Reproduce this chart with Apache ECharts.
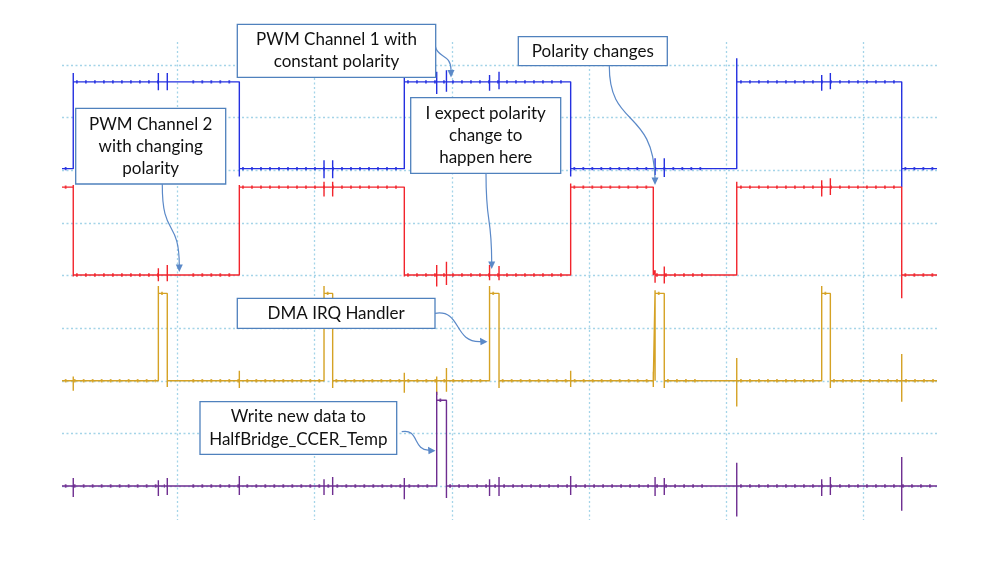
<!DOCTYPE html>
<html><head><meta charset="utf-8">
<script src="https://cdn.jsdelivr.net/npm/echarts@6/dist/echarts.min.js"></script>
<style>html,body{margin:0;padding:0;background:#fff}#c{width:999px;height:562px}</style>
</head><body><div id="c"></div>
<script>
// time axis in µs (grid division = 10 µs), vertical axis in divisions
const timeRange = [1.6, 65.35];
const divisionRange = [10, 60];
const levelRange = [0, 8];
const tickWindows = [[1.6, 9.3], [10.9, 48.5], [50.8, 65.35]];

// PWM Channel 1 (blue)
const ch1Levels = [6.03, 7.68];
const ch1StartHigh = false;
const ch1Edges = [2.42, 14.52, 26.54, 38.66, 50.76, 62.78];
const ch1Spikes = [[2.42, 7.85, 6.03], [8.62, 7.85, 7.52], [9.27, 7.85, 7.52], [14.52, 7.68, 5.88],
  [20.69, 6.19, 5.85], [21.32, 6.19, 5.85], [26.54, 7.78, 6.03], [28.90, 7.87, 7.45], [29.61, 7.90, 7.49],
  [32.75, 7.81, 7.51], [33.44, 7.87, 7.54], [38.66, 7.68, 5.88], [44.81, 6.23, 5.91], [45.48, 6.23, 5.87],
  [50.76, 8.13, 6.03], [56.95, 7.81, 7.51], [57.58, 7.85, 7.54], [62.78, 7.68, 5.68]];

// PWM Channel 2 (red)
const ch2Levels = [4.01, 5.68];
const ch2StartHigh = true;
const ch2Edges = [2.42, 14.52, 26.54, 38.66, 44.68, 50.76, 62.78];
const ch2Spikes = [[2.42, 5.72, 3.98], [8.62, 4.14, 3.89], [9.27, 4.20, 3.89], [14.52, 5.72, 4.01],
  [20.69, 5.78, 5.50], [21.32, 5.78, 5.50], [26.54, 5.68, 3.98], [28.90, 4.20, 3.79], [29.61, 4.26, 3.82],
  [32.75, 4.20, 3.91], [33.44, 4.18, 3.91], [38.66, 5.75, 4.01], [44.81, 4.10, 3.86], [45.48, 4.17, 3.85],
  [50.76, 5.78, 4.01], [56.95, 5.81, 5.50], [57.58, 5.85, 5.53], [62.78, 5.68, 3.57]];

// DMA IRQ Handler (gold)
const dmaLevels = [2.0, 3.66];
const dmaStartHigh = false;
const dmaEdges = [8.62, 9.27, 20.69, 21.32, 32.75, 33.44, 44.81, 45.48, 56.95, 57.58];
const dmaSpikes = [[2.42, 2.08, 1.81], [8.62, 3.80, 2.0], [9.27, 3.66, 1.88], [14.52, 2.19, 1.86],
  [20.69, 3.80, 2.0], [21.32, 3.66, 1.86], [26.54, 2.15, 1.77], [28.90, 2.08, 1.73], [29.61, 2.24, 1.79],
  [32.75, 3.80, 2.0], [33.44, 3.66, 1.86], [38.66, 2.19, 1.88], [44.68, 2.17, 1.88], [44.81, 3.72, 2.0],
  [45.48, 3.66, 1.86], [50.76, 2.43, 1.51], [56.95, 3.80, 2.0], [57.58, 3.66, 1.86], [62.78, 2.51, 1.60]];

// Write to HalfBridge_CCER_Temp (purple)
const wrLevels = [0.0, 1.63];
const wrStartHigh = false;
const wrEdges = [28.90, 29.61];
const wrSpikes = [[2.42, 0.15, -0.21], [8.62, 0.11, -0.19], [9.27, 0.15, -0.17], [14.52, 0.19, -0.17],
  [20.69, 0.13, -0.17], [21.32, 0.17, -0.17], [26.54, 0.15, -0.25], [28.90, 1.79, 0.0], [29.61, 1.63, -0.23],
  [32.75, 0.13, -0.19], [33.44, 0.17, -0.19], [38.66, 0.19, -0.17], [44.81, 0.17, -0.19], [45.48, 0.15, -0.17],
  [50.76, 0.44, -0.58], [56.95, 0.13, -0.19], [57.58, 0.17, -0.17], [62.78, 0.55, -0.47]];

function buildTrace(levels, startHigh, edges, spikes) {
  const xs = Array.from(new Set([...edges, ...spikes.map(s => s[0])])).sort((a, b) => a - b);
  let cur = startHigh ? 1 : 0;
  const pts = [[timeRange[0], levels[cur]]];
  xs.forEach(x => {
    pts.push([x, levels[cur]]);
    spikes.filter(s => s[0] === x).forEach(s => { pts.push([x, s[1]], [x, s[2]], [x, levels[cur]]); });
    if (edges.includes(x)) { cur ^= 1; pts.push([x, levels[cur]]); }
  });
  pts.push([timeRange[1], levels[cur]]);
  return pts;
}
function buildTicks(levels, startHigh, edges) {
  const bounds = [timeRange[0], ...edges, timeRange[1]];
  let cur = startHigh ? 1 : 0;
  const out = [];
  for (let i = 0; i < bounds.length - 1; i++) {
    const a = bounds[i], b = bounds[i + 1];
    tickWindows.forEach(([w0, w1]) => {
      const s = Math.max(a, w0), e = Math.min(b, w1);
      if (e - s > 0.4) out.push([s + 0.2, levels[cur]], [e - 0.2, levels[cur]], null);
    });
    cur ^= 1;
  }
  return out;
}

const traces = [
  { name: 'PWM Channel 1', color: '#2430e0', levels: ch1Levels, hi: ch1StartHigh, edges: ch1Edges, spikes: ch1Spikes },
  { name: 'PWM Channel 2', color: '#f2242c', levels: ch2Levels, hi: ch2StartHigh, edges: ch2Edges, spikes: ch2Spikes },
  { name: 'DMA IRQ Handler', color: '#d5a224', levels: dmaLevels, hi: dmaStartHigh, edges: dmaEdges, spikes: dmaSpikes },
  { name: 'Write new data', color: '#6e2d90', levels: wrLevels, hi: wrStartHigh, edges: wrEdges, spikes: wrSpikes }
];

const series = [];
traces.forEach(t => {
  series.push({
    type: 'line', name: t.name, xAxisIndex: 0, yAxisIndex: 0, data: buildTrace(t.levels, t.hi, t.edges, t.spikes),
    showSymbol: false, clip: false, animation: false, silent: true,
    lineStyle: { color: t.color, width: 1.4 }, z: 3
  });
  series.push({
    type: 'line', name: t.name + ' samples', xAxisIndex: 0, yAxisIndex: 0, data: buildTicks(t.levels, t.hi, t.edges),
    showSymbol: false, clip: false, animation: false, silent: true, connectNulls: false,
    lineStyle: { color: t.color, width: 3.4, type: [1.8, 7.2], opacity: 0.85 }, z: 3
  });
});

const gridColor = '#a4d4e8';
const boxStroke = '#4f81bd';
const arrowColor = '#5b89c8';
const font = '17px Lato, "Liberation Sans", sans-serif';

function box(x, y, w, h, lines, lineGap) {
  const gap = lineGap || 0;
  const els = [{ type: 'rect', shape: { x: x, y: y, width: w, height: h }, style: { fill: '#fff', stroke: boxStroke, lineWidth: 1.3 }, z: 100 }];
  const cx = x + w / 2;
  const cy = y + h / 2 - (lines.length - 1) * gap / 2;
  lines.forEach((t, i) => {
    els.push({ type: 'text', x: cx, y: cy + i * gap, style: { text: t, font: font, fill: '#111', align: 'center', verticalAlign: 'middle' }, z: 101 });
  });
  return els;
}
function arrow(p0, c1, c2, p1, tip, dir) {
  const els = [{ type: 'bezierCurve', shape: { x1: p0[0], y1: p0[1], cpx1: c1[0], cpy1: c1[1], cpx2: c2[0], cpy2: c2[1], x2: p1[0], y2: p1[1] },
    style: { stroke: arrowColor, lineWidth: 1.2, fill: null }, z: 102 }];
  let pts;
  if (dir === 'down') pts = [[tip[0] - 3.5, tip[1] - 7.5], [tip[0] + 3.5, tip[1] - 7.5], [tip[0], tip[1]]];
  else pts = [[tip[0] - 7.5, tip[1] - 4], [tip[0] - 7, tip[1] + 3.5], [tip[0], tip[1]]];
  els.push({ type: 'polygon', shape: { points: pts }, style: { fill: arrowColor }, z: 102 });
  return els;
}

const graphics = [].concat(
  box(237.3, 24.3, 198.4, 53, ['PWM Channel 1 with', 'constant polarity'], 22),
  arrow([435.5, 47], [438, 58], [451, 54], [451, 70], [451, 77.5], 'down'),
  box(75.7, 108.3, 150, 75.7, ['PWM Channel 2', 'with changing', 'polarity'], 22),
  arrow([162.3, 184], [162, 238], [179, 218], [179.3, 265], [179.3, 272], 'down'),
  box(410.7, 97.7, 150, 75.6, ['I expect polarity', 'change to', 'happen here'], 22.3),
  arrow([486, 173.3], [486, 228], [491.5, 212], [491.7, 262], [491.7, 269], 'down'),
  box(518.3, 36.7, 149, 29, ['Polarity changes']),
  arrow([609.3, 65.7], [609, 128], [653, 108], [655, 178], [655, 185], 'down'),
  box(237.3, 298.3, 197.7, 30, ['DMA IRQ Handler']),
  arrow([435, 313.3], [462, 309], [453, 343], [481, 341.6], [487.5, 341.8], 'right'),
  box(200, 401.7, 196.7, 52.6, ['Write new data to', 'HalfBridge_CCER_Temp'], 23),
  arrow([401.7, 431.7], [419, 428], [413, 451], [429, 450], [435.5, 450.8], 'right')
);

const chart = echarts.init(document.getElementById('c'), null, { renderer: 'canvas' });
chart.setOption({
  backgroundColor: '#fff',
  animation: false,
  grid: [
    { left: 62, right: 62, top: 65, bottom: 76 },
    { left: 177.3, right: 135.5, top: 42, bottom: 42 }
  ],
  xAxis: [
    { type: 'value', gridIndex: 0, min: timeRange[0], max: timeRange[1], show: false },
    { type: 'value', gridIndex: 1, min: divisionRange[0], max: divisionRange[1], interval: 10,
      axisLine: { show: false }, axisTick: { show: false }, axisLabel: { show: false },
      splitLine: { show: true, lineStyle: { color: gridColor, width: 1.3, type: [2, 2.5] } } }
  ],
  yAxis: [
    { type: 'value', gridIndex: 0, min: levelRange[0], max: levelRange[1], interval: 1,
      axisLine: { show: false }, axisTick: { show: false }, axisLabel: { show: false },
      splitLine: { show: true, lineStyle: { color: gridColor, width: 1.3, type: [2, 2.5] } } },
    { type: 'value', gridIndex: 1, min: 0, max: 1, show: false, splitLine: { show: false } }
  ],
  series: series,
  graphic: { elements: graphics }
});
</script></body></html>
